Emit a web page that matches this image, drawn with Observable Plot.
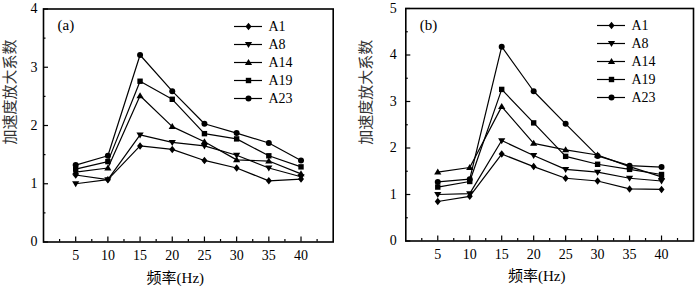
<!DOCTYPE html>
<html>
<head>
<meta charset="utf-8">
<script src="https://cdn.jsdelivr.net/npm/d3@7"></script>
<script src="https://cdn.jsdelivr.net/npm/@observablehq/plot@0.6"></script>
<style>
  html, body { margin: 0; padding: 0; background: #fff; }
  #root { position: relative; width: 700px; height: 288px; overflow: hidden; background: #fff; }
  #root > div, #root > svg { position: absolute; }
</style>
</head>
<body>
<div id="root"></div>
<script>
// ---- data ----
const freq = [5, 10, 15, 20, 25, 30, 35, 40];
const seriesNames = ["A1", "A8", "A14", "A19", "A23"];

// panel (a)
const a_A1  = [1.15, 1.07, 1.65, 1.59, 1.40, 1.27, 1.05, 1.08];
const a_A8  = [1.00, 1.07, 1.84, 1.71, 1.65, 1.49, 1.27, 1.12];
const a_A14 = [1.20, 1.27, 2.51, 1.98, 1.72, 1.41, 1.39, 1.17];
const a_A19 = [1.25, 1.38, 2.76, 2.45, 1.86, 1.77, 1.48, 1.29];
const a_A23 = [1.32, 1.48, 3.21, 2.59, 2.03, 1.87, 1.70, 1.40];

// panel (b)
const b_A1  = [0.85, 0.96, 1.87, 1.60, 1.35, 1.29, 1.12, 1.11];
const b_A8  = [1.00, 1.02, 2.16, 1.84, 1.54, 1.48, 1.35, 1.29];
const b_A14 = [1.48, 1.58, 2.89, 2.10, 1.96, 1.85, 1.60, 1.38];
const b_A19 = [1.16, 1.28, 3.26, 2.54, 1.82, 1.65, 1.54, 1.43];
const b_A23 = [1.27, 1.33, 4.18, 3.22, 2.52, 1.83, 1.62, 1.59];

const xTickLabels = [5, 10, 15, 20, 25, 30, 35, 40];
const xMinorTicks = [2.5, 7.5, 12.5, 17.5, 22.5, 27.5, 32.5, 37.5, 42.5];
const yTicksA = [0, 1, 2, 3, 4];
const yTicksB = [0, 1, 2, 3, 4, 5];
const yMinorA = [0.5, 1.5, 2.5, 3.5];
const yMinorB = [0.5, 1.5, 2.5, 3.5, 4.5];

const yLabel = "加速度放大系数";
const xLabel = "频率(Hz)";

// ---- symbols ----
const R = (size) => Math.sqrt(size / Math.PI);
const symDiamond = { draw(c, s) { const r = R(s); c.moveTo(0, -1.25 * r); c.lineTo(r, 0); c.lineTo(0, 1.25 * r); c.lineTo(-r, 0); c.closePath(); } };
const symTriDown = { draw(c, s) { const r = R(s); c.moveTo(-1.2 * r, -0.8 * r); c.lineTo(1.2 * r, -0.8 * r); c.lineTo(0, 1.2 * r); c.closePath(); } };
const symTriUp   = { draw(c, s) { const r = R(s); c.moveTo(-1.2 * r, 0.8 * r); c.lineTo(1.2 * r, 0.8 * r); c.lineTo(0, -1.2 * r); c.closePath(); } };
const symSquare  = { draw(c, s) { const r = R(s) * 0.9; c.rect(-r, -r, 2 * r, 2 * r); } };
const symCircle  = { draw(c, s) { const r = R(s); c.moveTo(r, 0); c.arc(0, 0, r, 0, 2 * Math.PI); } };
const symbols = [symDiamond, symTriDown, symTriUp, symSquare, symCircle];

const font = "'Liberation Serif', 'Noto Sans CJK SC', serif";
const root = document.getElementById("root");

function buildRows(arrays) {
  const rows = [];
  arrays.forEach((vals, i) => vals.forEach((v, j) => rows.push({ series: seriesNames[i], x: freq[j], y: v })));
  return rows;
}

function panel(opts) {
  const { arrays, yMax, yTicks, yMinor, tag, left, width, mL, mR, mT, mB, tickPad, yLab, xLab, tagOff } = opts;
  const height = 288;
  const innerW = width - mL - mR;
  const innerH = height - mT - mB;
  const rows = buildRows(arrays);
  const marks = [
    Plot.ruleX(xTickLabels, { x: d => d, insetTop: innerH - 5, strokeWidth: 1.2 }),
    Plot.ruleX(xMinorTicks, { x: d => d, insetTop: innerH - 2.5, strokeWidth: 1.2 }),
    Plot.ruleY(yTicks, { y: d => d, insetRight: innerW - 5, strokeWidth: 1.2 }),
    Plot.ruleY(yMinor, { y: d => d, insetRight: innerW - 2.5, strokeWidth: 1.2 }),
    Plot.axisX(xTickLabels, { tickSize: 0, tickPadding: 8, label: null, fontSize: 14, tickFormat: d => String(d) }),
    Plot.axisY(yTicks, { tickSize: 0, tickPadding: tickPad, label: null, fontSize: 14, tickFormat: d => String(d) }),
    Plot.line(rows, { x: "x", y: "y", z: "series", stroke: "black", strokeWidth: 1.2 }),
    ...seriesNames.map((s, i) => Plot.dot(rows.filter(d => d.series === s), { x: "x", y: "y", symbol: symbols[i], r: 3, fill: "black", stroke: "none" })),
    Plot.frame({ strokeWidth: 1.6 }),
    Plot.text([tag], { frameAnchor: "top-left", dx: tagOff[0], dy: tagOff[1], textAnchor: "start", lineAnchor: "middle", fontSize: 15, text: d => d }),
    Plot.text([xLabel], { frameAnchor: "bottom", dx: xLab[0], dy: xLab[1], lineAnchor: "middle", fontSize: 15, text: d => d }),
    Plot.text([yLabel], { frameAnchor: "left", dx: yLab[0], dy: yLab[1], rotate: -90, lineAnchor: "middle", fontSize: 15, text: d => d, fill: "#333" })
  ];
  const svg = Plot.plot({
    width, height,
    marginLeft: mL, marginRight: mR, marginTop: mT, marginBottom: mB,
    x: { domain: [0, 45] },
    y: { domain: [0, yMax] },
    style: { fontFamily: font, fontSize: "14px", color: "black", background: "white", overflow: "visible" },
    marks
  });
  svg.style.left = left + "px";
  svg.style.top = "0px";
  root.appendChild(svg);
}

function legend(left, top) {
  const lineLen = 28;
  const svg = Plot.plot({
    width: lineLen + 40, height: 88,
    marginLeft: 0, marginRight: 40, marginTop: 8, marginBottom: 8,
    x: { axis: null },
    y: { type: "point", domain: seriesNames, padding: 0, axis: null },
    style: { fontFamily: font, fontSize: "14px", color: "black", background: "transparent", overflow: "visible" },
    marks: [
      Plot.ruleY(seriesNames, { y: d => d, strokeWidth: 1.2 }),
      ...seriesNames.map((s, i) => Plot.dot([s], { y: d => d, symbol: symbols[i], r: 3, fill: "black", stroke: "none" })),
      Plot.text(seriesNames, { y: d => d, text: d => d, frameAnchor: "right", textAnchor: "start", dx: 6, fontSize: 14 })
    ]
  });
  svg.style.left = left + "px";
  svg.style.top = top + "px";
  root.appendChild(svg);
}

panel({
  arrays: [a_A1, a_A8, a_A14, a_A19, a_A23], yMax: 4, yTicks: yTicksA, yMinor: yMinorA, tag: "(a)",
  left: 0, width: 350, mL: 43, mR: 17.3, mT: 8.5, mB: 46.5, tickPad: 6,
  yLab: [-33, 19], xLab: [-13, 36], tagOff: [14, 16.5]
});
panel({
  arrays: [b_A1, b_A8, b_A14, b_A19, b_A23], yMax: 5, yTicks: yTicksB, yMinor: yMinorB, tag: "(b)",
  left: 350, width: 350, mL: 55.3, mR: 7, mT: 8, mB: 47.5, tickPad: 9,
  yLab: [-40, 20], xLab: [-13, 35], tagOff: [14, 17]
});
legend(234, 17.7);
legend(597, 17);
</script>
</body>
</html>
